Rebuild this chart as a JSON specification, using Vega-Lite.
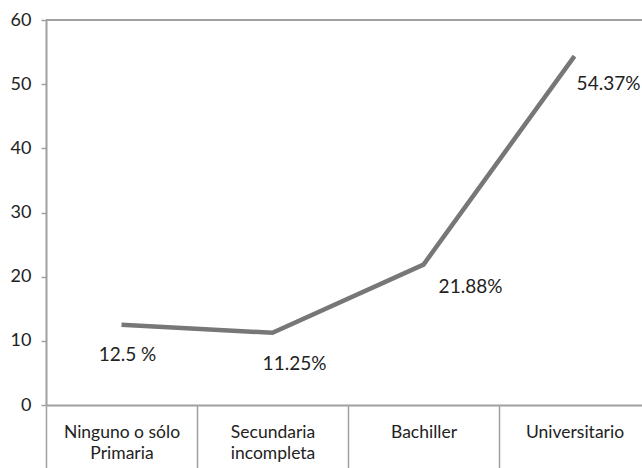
{
  "$schema": "https://vega.github.io/schema/vega-lite/v6.json",
  "width": 604,
  "height": 385,
  "autosize": {"type": "none"},
  "padding": {"left": 46, "top": 20, "right": 0, "bottom": 63},
  "background": "white",
  "config": {
    "view": {"stroke": null},
    "font": "Lato"
  },
  "data": {
    "values": [
      {"nivel": "Ninguno o sólo Primaria", "pct": 12.5, "label": "12.5 %"},
      {"nivel": "Secundaria incompleta", "pct": 11.25, "label": "11.25%"},
      {"nivel": "Bachiller", "pct": 21.88, "label": "21.88%"},
      {"nivel": "Universitario", "pct": 54.37, "label": "54.37%"}
    ]
  },
  "encoding": {
    "x": {
      "field": "nivel",
      "type": "nominal",
      "sort": null,
      "scale": {"paddingInner": 0, "paddingOuter": 0},
      "axis": {
        "title": null,
        "labelAngle": 0,
        "tickBand": "extent",
        "domainColor": "#a0a0a0",
        "domainWidth": 2,
        "tickColor": "#a0a0a0",
        "tickWidth": 1.5,
        "tickSize": 63,
        "labelFontSize": 17.5,
        "labelColor": "#222222",
        "labelPadding": -31,
        "labelBaseline": "alphabetic",
        "labelLineHeight": 21,
        "labelExpr": "datum.value == 'Ninguno o sólo Primaria' ? ['Ninguno o sólo', 'Primaria'] : datum.value == 'Secundaria incompleta' ? ['Secundaria', 'incompleta'] : datum.value"
      }
    },
    "y": {
      "field": "pct",
      "type": "quantitative",
      "scale": {"domain": [0, 60], "nice": false},
      "axis": {
        "title": null,
        "values": [0, 10, 20, 30, 40, 50, 60],
        "grid": false,
        "domainColor": "#a0a0a0",
        "domainWidth": 2,
        "tickColor": "#a0a0a0",
        "tickWidth": 1.5,
        "tickSize": 5,
        "labelFontSize": 18,
        "labelColor": "#222222",
        "labelPadding": 10
      }
    }
  },
  "layer": [
    {
      "mark": {"type": "rule", "color": "#a0a0a0", "strokeWidth": 2},
      "encoding": {
        "x": null,
        "y": {"datum": 60, "type": "quantitative"}
      }
    },
    {
      "mark": {"type": "line", "color": "#777777", "strokeWidth": 4.5},
      "encoding": {}
    },
    {
      "transform": [{"filter": "datum.pct == 12.5"}],
      "mark": {"type": "text", "fontSize": 19, "color": "#222222", "dx": 6, "dy": 30},
      "encoding": {"text": {"field": "label"}}
    },
    {
      "transform": [{"filter": "datum.pct == 11.25"}],
      "mark": {"type": "text", "fontSize": 19, "color": "#222222", "dx": 22, "dy": 31},
      "encoding": {"text": {"field": "label"}}
    },
    {
      "transform": [{"filter": "datum.pct == 21.88"}],
      "mark": {"type": "text", "fontSize": 19, "color": "#222222", "dx": 47, "dy": 22},
      "encoding": {"text": {"field": "label"}}
    },
    {
      "transform": [{"filter": "datum.pct == 54.37"}],
      "mark": {"type": "text", "fontSize": 19, "color": "#222222", "dx": 34, "dy": 28},
      "encoding": {"text": {"field": "label"}}
    }
  ]
}
